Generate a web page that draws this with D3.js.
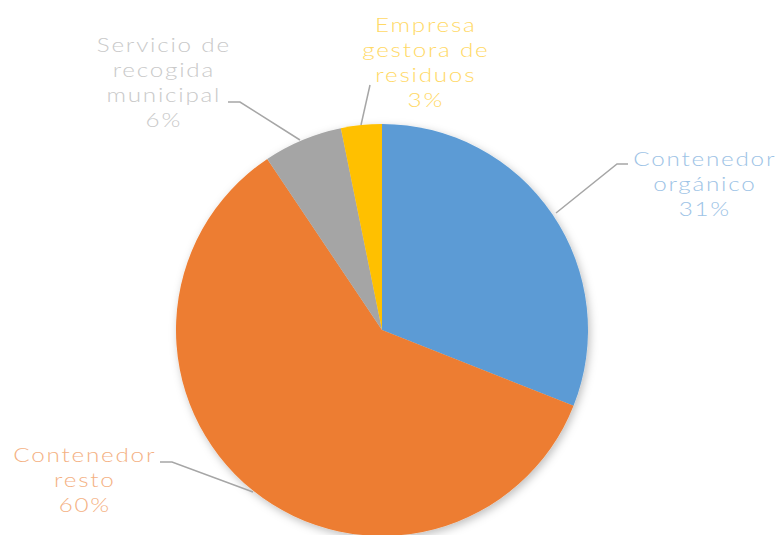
<!DOCTYPE html>
<html><head><meta charset="utf-8">
<script src="https://cdn.jsdelivr.net/npm/d3@7"></script>
<style>
html,body{margin:0;padding:0;background:#fff;}
svg{display:block;}
text{font-family:"Lato","Open Sans",sans-serif;font-weight:300;}
</style></head><body>
<svg id="chart" width="780" height="535"></svg>
<script>
const categories = ["Contenedor orgánico","Contenedor resto","Servicio de recogida municipal","Empresa gestora de residuos"];
const values = [31.0, 59.6, 6.2, 3.2];
const percentLabels = ["31%","60%","6%","3%"];
const labelLines = [["Contenedor","orgánico"],["Contenedor","resto"],["Servicio de","recogida","municipal"],["Empresa","gestora de","residuos"]];
const sliceColors = ["#5B9BD5","#ED7D31","#A5A5A5","#FFC000"];
const labelColors = ["#9DC3E6","#F4B183","#C9C9C9","#FFD966"];

const svg = d3.select("#chart");
const cx = 382, cy = 330, r = 206;

const defs = svg.append("defs");
const f = defs.append("filter").attr("id","sh").attr("x","-20%").attr("y","-20%").attr("width","140%").attr("height","140%");
f.append("feDropShadow").attr("dx",2).attr("dy",3).attr("stdDeviation",4).attr("flood-color","#000").attr("flood-opacity",0.25);

const pie = d3.pie().sort(null).value(d=>d)(values);
const arc = d3.arc().innerRadius(0).outerRadius(r);
const g = svg.append("g").attr("transform",`translate(${cx},${cy})`);
g.append("g").attr("filter","url(#sh)").selectAll("path").data(pie).join("path")
  .attr("d",arc).attr("fill",(d,i)=>sliceColors[i]);

const fs = 20.5, ls = 1.5;
// measure reference word to set horizontal stretch so "Contenedor" spans ~143px
const probe = svg.append("text").attr("font-size",fs).attr("letter-spacing",ls).text("Contenedor");
const pw = probe.node().getComputedTextLength();
probe.remove();
const sx = 143 / pw;

const labelPos = [
  {x:704, y:166, line:[[556,213],[617,164],[628,164]]},
  {x:84, y:462, line:[[160,462],[172,462],[253,492]]},
  {x:163, y:52, line:[[228,102],[240,102],[300,140]]},
  {x:425, y:32, line:[[370,85],[361,125]]}
];
const lh = 25;
const lineGen = d3.line();
labelPos.forEach((p,i)=>{
  svg.append("path").attr("d",lineGen(p.line)).attr("fill","none")
    .attr("stroke","#A6A6A6").attr("stroke-width",1.5);
  const lines = labelLines[i].concat([percentLabels[i]]);
  lines.forEach((s,k)=>{
    svg.append("g").attr("transform",`translate(${p.x + 0.8},${p.y+k*lh}) scale(${sx},1)`)
      .append("text").attr("text-anchor","middle").attr("fill",labelColors[i])
      .attr("font-size",fs).attr("letter-spacing",ls)
      .attr("x",0).attr("y",0).text(s);
  });
});
</script></body></html>
